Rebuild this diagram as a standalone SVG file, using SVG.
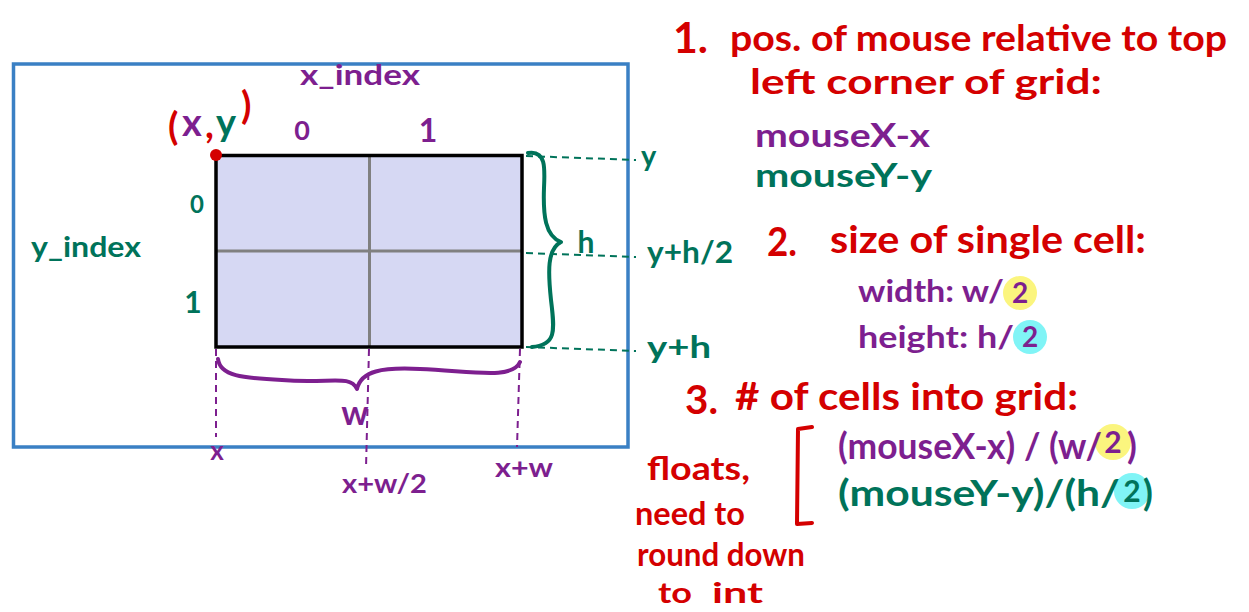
<svg xmlns="http://www.w3.org/2000/svg" width="1249" height="612" viewBox="0 0 1249 612">
<style>
text{font-family:"Lato","Liberation Sans",sans-serif;font-weight:bold;}
.r{fill:#d40000}
.p{fill:#7d1f8f}
.g{fill:#00735a}
.dp{stroke:#7d1f8f;stroke-width:2;stroke-dasharray:7 5;fill:none}
.dg{stroke:#00735a;stroke-width:2;stroke-dasharray:7 5;fill:none}
.brace{fill:none;stroke-width:4;stroke-linecap:round;stroke-linejoin:round}
</style>
<rect width="1249" height="612" fill="#ffffff"/>
<g id="frame">
<rect x="13.5" y="64" width="614.5" height="383" fill="none" stroke="#3a80c4" stroke-width="3.5"/>
</g>
<g id="grid">
<rect x="216" y="155.5" width="306" height="191.5" fill="#d6d8f3"/>
<line x1="369.5" y1="155.5" x2="369.5" y2="347" stroke="#808080" stroke-width="3"/>
<line x1="216" y1="251" x2="522" y2="251" stroke="#808080" stroke-width="3"/>
<rect x="216" y="155.5" width="306" height="191.5" fill="none" stroke="#000" stroke-width="3.5"/>
<circle cx="216" cy="155" r="6" fill="#d40000"/>
</g>
<g id="labels-left">
<text x="300" y="85" class="p" font-size="28" textLength="120" lengthAdjust="spacingAndGlyphs">x_index</text>
<text x="31" y="257" class="g" font-size="29" textLength="110" lengthAdjust="spacingAndGlyphs">y_index</text>
<text font-size="38"><tspan class="r" x="168" y="140">(</tspan><tspan class="p" x="182" y="136">x</tspan><tspan class="r" x="205" y="138">,</tspan><tspan class="g" x="216" y="136">y</tspan><tspan class="r" x="241" y="119">)</tspan></text>
<text x="302" y="140" class="p" font-size="27" text-anchor="middle">0</text>
<text x="428" y="142" class="p" font-size="32" text-anchor="middle">1</text>
<text x="197" y="213" class="g" font-size="24" text-anchor="middle">0</text>
<text x="193" y="313" class="g" font-size="30" text-anchor="middle">1</text>
<text x="586" y="253" class="g" font-size="30" text-anchor="middle">h</text>
<text x="355" y="425" class="p" font-size="34" text-anchor="middle">w</text>
<text x="217" y="460" class="p" font-size="26" text-anchor="middle">x</text>
<text x="342" y="493" class="p" font-size="27" textLength="85" lengthAdjust="spacingAndGlyphs">x+w/2</text>
<text x="495" y="477" class="p" font-size="27" textLength="58" lengthAdjust="spacingAndGlyphs">x+w</text>
<text x="641" y="166" class="g" font-size="29">y</text>
<text x="647" y="263" class="g" font-size="30" textLength="86" lengthAdjust="spacingAndGlyphs">y+h/2</text>
<text x="647" y="358" class="g" font-size="30" textLength="64" lengthAdjust="spacingAndGlyphs">y+h</text>
</g>
<g id="connectors">
<path class="dg" d="M526,156 L636,160"/>
<path class="dg" d="M526,253 L636,257"/>
<path class="dg" d="M526,347 L636,351"/>
<path class="dp" d="M216,349 L216,437"/>
<path class="dp" d="M369,349 L366,468"/>
<path class="dp" d="M520,349 L517,447"/>
<path class="brace" stroke="#00735a" d="M528,153 C546,150 545,168 544,188 C543,215 545,236 561,242 C547,249 548,272 551,300 C555,332 556,345 532,347"/>
<path class="brace" stroke="#7d1f8f" d="M218,359 C220,376 242,378 282,380 C330,384 350,374 357,389 C361,371 382,367 420,369 C472,371 512,380 520,362"/>
<path fill="none" stroke="#d40000" stroke-width="4" stroke-linecap="round" stroke-linejoin="round" d="M812,427 L798,429 L797,524 L812,523"/>
</g>
<g id="step1">
<text x="673" y="53" class="r" font-size="42" textLength="35" lengthAdjust="spacingAndGlyphs">1.</text>
<text x="730" y="51" class="r" font-size="37" textLength="497" lengthAdjust="spacingAndGlyphs">pos. of mouse relative to top</text>
<text x="750" y="94" class="r" font-size="35" textLength="352" lengthAdjust="spacingAndGlyphs">left corner of grid:</text>
<text x="755" y="147" class="p" font-size="32" textLength="175" lengthAdjust="spacingAndGlyphs">mouseX-x</text>
<text x="755" y="187" class="g" font-size="32" textLength="177" lengthAdjust="spacingAndGlyphs">mouseY-y</text>
</g>
<g id="step2">
<text x="767" y="256" class="r" font-size="40" textLength="30" lengthAdjust="spacingAndGlyphs">2.</text>
<text x="830" y="253" class="r" font-size="38" textLength="316" lengthAdjust="spacingAndGlyphs">size of single cell:</text>
<circle cx="1020" cy="293" r="17" fill="#fbf57e"/>
<circle cx="1030" cy="337" r="17" fill="#80f4f6"/>
<text x="858" y="302" class="p" font-size="31" textLength="146" lengthAdjust="spacingAndGlyphs">width: w/</text>
<text x="1020" y="303" class="p" font-size="28" text-anchor="middle">2</text>
<text x="858" y="348" class="p" font-size="31" textLength="156" lengthAdjust="spacingAndGlyphs">height: h/</text>
<text x="1030" y="347" class="p" font-size="28" text-anchor="middle">2</text>
</g>
<g id="step3">
<text x="685" y="414" class="r" font-size="40" textLength="33" lengthAdjust="spacingAndGlyphs">3.</text>
<text x="735" y="410" class="r" font-size="38" textLength="343" lengthAdjust="spacingAndGlyphs"># of cells into grid:</text>
<circle cx="1113" cy="442" r="18" fill="#fbf57e"/>
<circle cx="1132" cy="491" r="18" fill="#80f4f6"/>
<text x="838" y="459" class="p" font-size="36" textLength="264" lengthAdjust="spacingAndGlyphs">(mouseX-x) / (w/</text>
<text x="1113" y="453" class="p" font-size="30" text-anchor="middle">2</text>
<text x="1127" y="459" class="p" font-size="36">)</text>
<text x="838" y="506" class="g" font-size="36" textLength="282" lengthAdjust="spacingAndGlyphs">(mouseY-y)/(h/</text>
<text x="1132" y="502" class="g" font-size="30" text-anchor="middle">2</text>
<text x="1143" y="506" class="g" font-size="36">)</text>
</g>
<g id="note">
<text x="647" y="480" class="r" font-size="33" textLength="103" lengthAdjust="spacingAndGlyphs">floats,</text>
<text x="635" y="525" class="r" font-size="33" textLength="110" lengthAdjust="spacingAndGlyphs">need to</text>
<text x="637" y="566" class="r" font-size="33" textLength="168" lengthAdjust="spacingAndGlyphs">round down</text>
<text x="658" y="603" class="r" font-size="29" textLength="34" lengthAdjust="spacingAndGlyphs">to</text>
<text x="712" y="603" class="r" font-size="29" textLength="51" lengthAdjust="spacingAndGlyphs">int</text>
</g>
</svg>
